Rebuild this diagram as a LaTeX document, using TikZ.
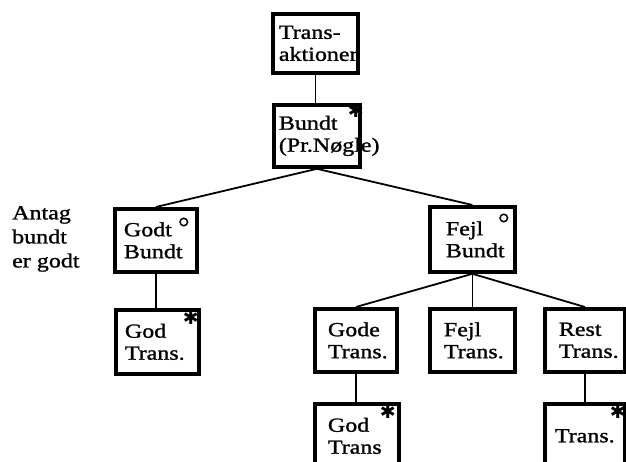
\documentclass[tikz,border=0pt]{standalone}
\usepackage{fontspec}
\setmainfont[FakeStretch=1.2,FakeBold=1.2]{Liberation Serif}
\newfontfamily\symfont{DejaVu Sans}
\begin{document}
\begin{tikzpicture}[x=1pt,y=-1pt,
  box/.style={draw, line width=3.8pt, anchor=north west, align=left,
    inner ysep=0pt, font=\fontsize{20}{22}\selectfont},
  note/.style={anchor=north west, align=left, inner sep=0pt,
    font=\fontsize{20}{24}\selectfont},
  link/.style={line width=1.8pt},
  star/.style={font=\symfont\fontsize{19}{19}\selectfont, inner sep=0pt},
  ring/.style={draw, circle, line width=1.5pt, minimum size=7.5pt, inner sep=0pt}]
\useasboundingbox (0,0) rectangle (626,462);
\clip (0,0) rectangle (626,462);

% record types
\node[box, inner xsep=6pt,  text width=73pt, minimum height=59pt] (T)   at (271,12)  {Trans-\\aktioner};
\node[box, inner xsep=5pt,  text width=76pt, minimum height=62pt] (B)   at (272,103) {Bundt\\(Pr.Nøgle)};
\node[box, inner xsep=9pt,  text width=64pt, minimum height=63pt] (GB)  at (113,207) {Godt\\Bundt};
\node[box, inner xsep=16pt, text width=53pt, minimum height=65pt] (FB)  at (428,205) {Fejl\\Bundt};
\node[box, inner xsep=9pt,  text width=65pt, minimum height=64pt] (GT1) at (114,308) {God\\Trans.};
\node[box, inner xsep=13pt, text width=56pt, minimum height=63pt] (GdT) at (313,307) {Gode\\Trans.};
\node[box, inner xsep=14pt, text width=57pt, minimum height=63pt] (FT)  at (428,307) {Fejl\\Trans.};
\node[box, inner xsep=14pt, text width=52pt, minimum height=63pt] (RT)  at (543,307) {Rest\\Trans.};
\node[box, inner xsep=13pt, text width=58pt, minimum height=64pt] (GT2) at (313,402) {God\\Trans};
\node[box, inner xsep=10pt, text width=60pt, minimum height=64pt] (TR)  at (543,402) {Trans.};

% side remark
\node[note] (A) at (12,206) {Antag\\bundt\\er godt};

% iteration and selection marks
\node[star] (sB)   at ([xshift=-6pt,yshift=-8pt]B.north east)    {✱};
\node[star] (sGT1) at ([xshift=-10pt,yshift=-10pt]GT1.north east) {✱};
\node[star] (sGT2) at ([xshift=-13pt,yshift=-10pt]GT2.north east) {✱};
\node[star] (sTR)  at ([xshift=-9pt,yshift=-10pt]TR.north east)   {✱};
\node[ring] (oGB)  at ([xshift=-15pt,yshift=-15pt]GB.north east)  {};
\node[ring] (oFB)  at ([xshift=-13pt,yshift=-13pt]FB.north east)  {};

% tree connectors
\draw[link] (T.south) -- (T.south |- B.north);
\draw[link] (B.south) -- (GB.north);
\draw[link] (B.south) -- (FB.north);
\draw[link] (GB.south) -- (GB.south |- GT1.north);
\draw[link] (FB.south) -- (GdT.north);
\draw[link] (FB.south) -- (FB.south |- FT.north);
\draw[link] (FB.south) -- (RT.north);
\draw[link] (GdT.south) -- (GdT.south |- GT2.north);
\draw[link] (RT.south) -- (RT.south |- TR.north);
\end{tikzpicture}
\end{document}
